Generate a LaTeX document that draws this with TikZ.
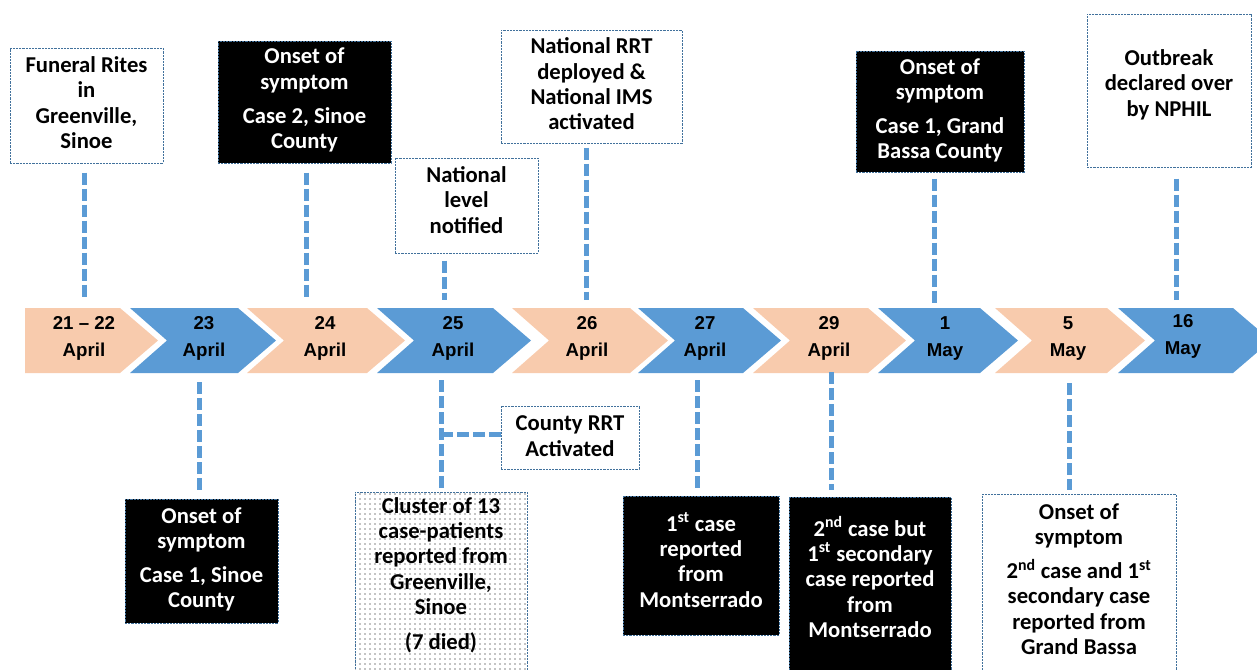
\documentclass[tikz,border=0pt]{standalone}
\usepackage{fontspec}
\setmainfont{Carlito}
\newfontfamily\arialfont{Liberation Sans}[Ligatures=TeX]
\usetikzlibrary{patterns.meta}
\definecolor{peach}{HTML}{F8CBAD}
\definecolor{cblue}{HTML}{5B9BD5}
\definecolor{bord}{HTML}{41719C}
\tikzset{
  chevpeach/.style={fill=peach, draw=none},
  chevblue/.style={fill=cblue, draw=none},
  datetxt/.style={font=\arialfont\bfseries\fontsize{14}{20}\selectfont, align=center, inner sep=0pt},
  evbox/.style={draw=bord, line width=0.75pt, dash pattern=on 1.6pt off 0.8pt, fill=white, inner sep=0pt},
  darkbox/.style={evbox, fill=black},
  dotbox/.style={draw=bord, line width=0.75pt, dash pattern=on 1.6pt off 0.8pt, inner sep=0pt,
     pattern={Dots[distance=3.75pt, radius=0.5pt]}, pattern color=black},
  evtxt/.style={font=\bfseries\fontsize{17}{19}\selectfont, align=center, inner sep=0pt},
  whitetxt/.style={evtxt, text=white},
  conn/.style={draw=cblue, line width=3.75pt, dash pattern=on 9pt off 3pt},
}
\newcommand\chevshape[3]{\fill[#3] (#1,308) -- (#2,308) -- (#2+38,340.5) -- (#2,373) -- (#1,373) -- (#1+37,340.5) -- cycle;}
\begin{document}
\begin{tikzpicture}[x=0.75pt, y=-0.75pt]
\useasboundingbox (0,0) rectangle (1257,669);
\clip (0,0) rectangle (1257,669);

% chevrons
\fill[chevpeach] (25,308) -- (120,308) -- (158,340.5) -- (120,373) -- (25,373) -- cycle;
\chevshape{130}{238}{chevblue}
\chevshape{247}{367}{chevpeach}
\chevshape{377}{493}{chevblue}
\chevshape{512}{630}{chevpeach}
\chevshape{638}{743}{chevblue}
\chevshape{753}{868}{chevpeach}
\chevshape{878}{980}{chevblue}
\chevshape{995}{1107}{chevpeach}
\chevshape{1118}{1233}{chevblue}

% date labels
\node[datetxt] (d1) at (84,338.5) {21 – 22\\April};
\node[datetxt] (d2) at (204,338.5) {23\\April};
\node[datetxt] (d3) at (325,338.5) {24\\April};
\node[datetxt] (d4) at (453,338.5) {25\\April};
\node[datetxt] (d5) at (587,338.5) {26\\April};
\node[datetxt] (d6) at (705,338.5) {27\\April};
\node[datetxt] (d7) at (829,338.5) {29\\April};
\node[datetxt] (d8) at (945,338.5) {1\\May};
\node[datetxt] (d9) at (1068,338.5) {5\\May};
\node[datetxt] (d10) at (1183,336.5) {16\\May};

% anchor coordinates on the timeline
\coordinate (tA) at (84,300);
\coordinate (tB) at (306,300);
\coordinate (tC) at (444,300);
\coordinate (tD) at (586,300);
\coordinate (tE) at (934,305);
\coordinate (tF) at (1176,300);
\coordinate (bG) at (199,382);
\coordinate (bH) at (441,380);
\coordinate (bJ) at (697,380);
\coordinate (bK) at (831,372);
\coordinate (bL) at (1069,383);
\coordinate (hI) at (441,434);

% top boxes
\node[evbox, minimum width=114.75pt, minimum height=86.25pt] (A) at (86.5,105.5) {};
\node[evtxt] (At) at (86.5,102.5) {Funeral Rites\\in\\Greenville,\\Sinoe};
\node[darkbox, minimum width=129.75pt, minimum height=91.5pt] (B) at (304.5,102) {};
\node[whitetxt] (Bt) at (304.5,100) {Onset of\\symptom\\[6.5pt]Case 2, Sinoe\\County};
\node[evbox, minimum width=107.25pt, minimum height=71.25pt] (C) at (466.5,205.5) {};
\node[evtxt] (Ct) at (466.5,200) {National\\level\\notified};
\node[evbox, minimum width=135.75pt, minimum height=84.75pt] (D) at (591.5,86.5) {};
\node[evtxt] (Dt) at (591.5,84) {National RRT\\deployed \&\\National IMS\\activated};
\node[darkbox, minimum width=126pt, minimum height=90.75pt] (E) at (940,111.5) {};
\node[whitetxt] (Et) at (940,110.5) {Onset of\\symptom\\[6.5pt]Case 1, Grand\\Bassa County};
\node[evbox, minimum width=123pt, minimum height=114.75pt] (F) at (1169,90.5) {};
\node[evtxt] (Ft) at (1169,84.5) {Outbreak\\declared over\\by NPHIL};

% bottom boxes
\node[darkbox, minimum width=114.75pt, minimum height=93pt] (G) at (201.5,561) {};
\node[whitetxt] (Gt) at (201.5,559.5) {Onset of\\symptom\\[6.5pt]Case 1, Sinoe\\County};
\node[dotbox, minimum width=129pt, minimum height=148.5pt] (H) at (441,591) {};
\node[evtxt] (Ht) at (441,575) {Cluster of 13\\case-patients\\reported from\\Greenville,\\Sinoe\\[7pt](7 died)};
\node[evbox, minimum width=103.5pt, minimum height=47.25pt] (I) at (570,437.5) {};
\node[evtxt] (It) at (570,436) {County RRT\\Activated};
\node[darkbox, minimum width=117pt, minimum height=104.25pt] (J) at (701,565.5) {};
\node[whitetxt] (Jt) at (701,560) {1\textsuperscript{st} case\\reported\\from\\Montserrado};
\node[darkbox, minimum width=121.5pt, minimum height=144.75pt] (K) at (870,593.5) {};
\node[whitetxt] (Kt) at (870,577) {2\textsuperscript{nd} case but\\1\textsuperscript{st} secondary\\case reported\\from\\Montserrado};
\node[evbox, minimum width=145.5pt, minimum height=147pt] (L) at (1079,592) {};
\node[evtxt] (Lt) at (1079,579) {Onset of\\symptom\\[6.5pt]2\textsuperscript{nd} case and 1\textsuperscript{st}\\secondary case\\reported from\\Grand Bassa};

% connectors
\draw[conn] ([yshift=-6.75pt]A.south -| tA) -- (tA);
\draw[conn] ([yshift=-6.75pt]B.south -| tB) -- (tB);
\draw[conn] ([yshift=-5.25pt]C.south -| tC) -- (tC);
\draw[conn] ([yshift=-3pt]D.south -| tD) -- (tD);
\draw[conn] ([yshift=-4.5pt]E.south -| tE) -- (tE);
\draw[conn] ([yshift=-8.25pt]F.south -| tF) -- (tF);
\draw[conn] (bG) -- ([yshift=6.75pt]G.north -| bG);
\draw[conn] (bH) -- ([yshift=1.5pt]H.north -| bH);
\draw[conn] (hI) -- (hI -| I.west);
\draw[conn] (bJ) -- ([yshift=4.5pt]J.north -| bJ);
\draw[conn] (bK) -- ([yshift=5.25pt]K.north -| bK);
\draw[conn] (bL) -- ([yshift=3pt]L.north -| bL);
\end{tikzpicture}
\end{document}
